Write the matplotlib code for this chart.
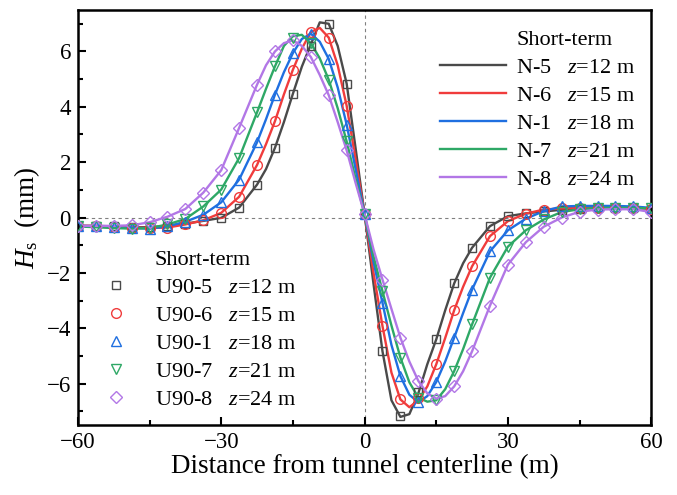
import matplotlib
matplotlib.use("Agg")
import matplotlib.pyplot as plt
from matplotlib.lines import Line2D
from matplotlib.ticker import MultipleLocator

plt.rcParams['font.family'] = ['Liberation Serif', 'DejaVu Serif']
plt.rcParams['mathtext.fontset'] = 'custom'
plt.rcParams['mathtext.rm'] = 'Liberation Serif'
plt.rcParams['mathtext.it'] = 'Liberation Serif:italic'

# measured points (markers), every 3.75 m
x_pts = [-60, -56.25, -52.5, -48.75, -45, -41.25, -37.5, -33.75, -30, -26.25,
         -22.5, -18.75, -15, -11.25, -7.5, -3.75, 0, 3.75, 7.5, 11.25, 15,
         18.75, 22.5, 26.25, 30, 33.75, 37.5, 41.25, 45, 48.75, 52.5, 56.25, 60]
u90_5 = [-0.3, -0.3, -0.32, -0.35, -0.35, -0.3, -0.22, -0.12, -0.01, 0.36,
         1.19, 2.52, 4.47, 6.2, 7.0, 4.84, 0.12, -4.83, -7.17, -6.3, -4.4,
         -2.38, -1.09, -0.31, 0.05, 0.15, 0.22, 0.28, 0.32, 0.35, 0.35, 0.35, 0.32]
u90_6 = [-0.3, -0.3, -0.33, -0.36, -0.38, -0.36, -0.25, -0.1, 0.17, 0.75,
         1.9, 3.48, 5.34, 6.7, 6.5, 4.04, 0.12, -3.92, -6.57, -6.5, -5.3,
         -3.35, -1.76, -0.67, -0.13, 0.14, 0.29, 0.33, 0.35, 0.35, 0.35, 0.35, 0.32]
u90_1 = [-0.3, -0.32, -0.35, -0.38, -0.4, -0.32, -0.15, 0.1, 0.55, 1.37,
         2.72, 4.44, 5.94, 6.64, 5.73, 3.36, 0.12, -3.08, -5.73, -6.67, -5.94,
         -4.34, -2.6, -1.22, -0.46, -0.04, 0.23, 0.4, 0.42, 0.42, 0.42, 0.4, 0.35]
u90_7 = [-0.32, -0.35, -0.38, -0.4, -0.38, -0.25, -0.05, 0.4, 1.01, 2.15,
         3.8, 5.46, 6.5, 6.3, 4.98, 2.75, 0.12, -2.66, -5.06, -6.5, -6.6,
         -5.55, -3.86, -2.17, -1.05, -0.46, -0.07, 0.2, 0.3, 0.35, 0.35, 0.35, 0.33]
u90_8 = [-0.3, -0.3, -0.3, -0.28, -0.17, 0.03, 0.31, 0.9, 1.71, 3.24,
         4.8, 6.0, 6.4, 5.8, 4.42, 2.43, 0.12, -2.24, -4.34, -5.9, -6.54,
         -6.1, -4.83, -3.18, -1.7, -0.89, -0.33, 0.0, 0.21, 0.29, 0.3, 0.3, 0.2]

# numerical curves (lines)
x_line = [-60, -56.25, -52.5, -48.75, -45, -41.25, -37.5, -33.75, -30, -26.25,
          -22.5, -20.625, -18.75, -16.875, -15, -13.125, -11.25, -9.375, -7.5,
          -5.625, -3.75, -1.875, 0, 1.875, 3.75, 5.625, 7.5, 9.375, 11.25,
          13.125, 15, 16.875, 18.75, 20.625, 22.5,
          26.25, 30, 33.75, 37.5, 41.25, 45, 48.75, 52.5, 56.25, 60]
n_5 = [-0.3, -0.3, -0.32, -0.35, -0.35, -0.3, -0.22, -0.12, -0.01, 0.36,
       1.19, 1.75, 2.52, 3.45, 4.47, 5.45, 6.25, 7.05, 7.0, 6.2, 4.84, 2.5,
       0.12, -2.4, -4.83, -6.6, -7.2, -7.1, -6.35, -5.3, -4.4, -3.35, -2.38,
       -1.65, -1.09,
       -0.31, 0.05, 0.15, 0.22, 0.28, 0.32, 0.35, 0.35, 0.35, 0.32]
n_6 = [-0.3, -0.3, -0.33, -0.36, -0.38, -0.36, -0.25, -0.1, 0.17, 0.75,
       1.9, 2.65, 3.48, 4.45, 5.34, 6.1, 6.7, 6.85, 6.5, 5.5, 4.04, 2.1,
       0.12, -2.0, -3.92, -5.6, -6.57, -6.85, -6.6, -6.1, -5.3, -4.35, -3.35,
       -2.5, -1.76,
       -0.67, -0.13, 0.14, 0.29, 0.33, 0.35, 0.35, 0.35, 0.35, 0.32]
n_1 = [-0.3, -0.32, -0.35, -0.38, -0.4, -0.32, -0.15, 0.1, 0.55, 1.37,
       2.72, 3.55, 4.44, 5.25, 5.94, 6.45, 6.64, 6.35, 5.73, 4.7, 3.36, 1.75,
       0.12, -1.6, -3.08, -4.6, -5.73, -6.4, -6.67, -6.45, -5.94, -5.2, -4.34,
       -3.45, -2.6,
       -1.22, -0.46, -0.04, 0.23, 0.4, 0.42, 0.42, 0.42, 0.4, 0.35]
n_7 = [-0.32, -0.35, -0.38, -0.4, -0.38, -0.25, -0.05, 0.4, 1.01, 2.15,
       3.8, 4.65, 5.46, 6.2, 6.55, 6.6, 6.3, 5.75, 4.98, 3.95, 2.75, 1.4,
       0.12, -1.4, -2.66, -3.9, -5.06, -5.95, -6.5, -6.65, -6.6, -6.2, -5.55,
       -4.75, -3.86,
       -2.17, -1.05, -0.46, -0.07, 0.2, 0.3, 0.35, 0.35, 0.35, 0.33]
n_8 = [-0.3, -0.3, -0.3, -0.28, -0.17, 0.03, 0.31, 0.9, 1.71, 3.24,
       4.8, 5.5, 6.0, 6.3, 6.4, 6.2, 5.8, 5.15, 4.42, 3.45, 2.43, 1.25,
       0.12, -1.15, -2.24, -3.3, -4.34, -5.2, -5.9, -6.35, -6.54, -6.45, -6.1,
       -5.55, -4.83,
       -3.18, -1.7, -0.89, -0.33, 0.0, 0.21, 0.29, 0.3, 0.3, 0.2]

depths = ["12", "15", "18", "21", "24"]
line_names = ["N-5", "N-6", "N-1", "N-7", "N-8"]
pt_names = ["U90-5", "U90-6", "U90-1", "U90-7", "U90-8"]
colors = ["#4a4a4a", "#f03c3c", "#1f6fe0", "#2ea866", "#b277e6"]
markers = ["s", "o", "^", "v", "D"]
msizes = [6, 7, 7.5, 7.5, 6]

fig = plt.figure(figsize=(6.77, 4.95), dpi=100)
ax = fig.add_axes([0.115, 0.141, 0.847, 0.839])

ax.axhline(0, color="gray", lw=0.8, ls=(0, (3, 3)), zorder=1)
ax.axvline(0, color="gray", lw=0.8, ls=(0, (3, 3)), zorder=1)

line_handles = [Line2D([], [], ls="none")]
line_labels = ["Short-term"]
for y, c, nm, d in zip([n_5, n_6, n_1, n_7, n_8], colors, line_names, depths):
    h, = ax.plot(x_line, y, color=c, lw=1.7, zorder=2)
    line_handles.append(h)
    line_labels.append(nm + "   $z$=" + d + " m")

pt_handles = [Line2D([], [], ls="none")]
pt_labels = ["Short-term"]
for y, c, m, ms, nm, d in zip([u90_5, u90_6, u90_1, u90_7, u90_8], colors,
                              markers, msizes, pt_names, depths):
    h, = ax.plot(x_pts, y, ls="none", marker=m, ms=ms, mfc="none", mec=c,
                 mew=1.0, zorder=3)
    pt_handles.append(h)
    pt_labels.append(nm + "   $z$=" + d + " m")

ax.set_xlim(-60, 60)
ax.set_ylim(-7.5, 7.5)
ax.xaxis.set_major_locator(MultipleLocator(30))
ax.xaxis.set_minor_locator(MultipleLocator(15))
ax.yaxis.set_major_locator(MultipleLocator(2))
ax.yaxis.set_minor_locator(MultipleLocator(1))
ax.tick_params(which="both", direction="in", width=1.5, labelsize=16.5)
ax.tick_params(which="major", length=5.5, pad=5)
ax.tick_params(which="minor", length=3.5)
for s in ax.spines.values():
    s.set_linewidth(1.8)

ax.set_xlabel("Distance from tunnel centerline (m)", fontsize=19.5, labelpad=1)
ax.set_ylabel("$H_\\mathrm{s}$  (mm)", fontsize=19.5, labelpad=3)

leg1 = ax.legend(line_handles, line_labels, loc="upper right",
                 bbox_to_anchor=(1.0, 0.99), frameon=False, fontsize=16,
                 handlelength=3.0, handletextpad=0.45, labelspacing=0.33,
                 borderaxespad=0.3)
ax.add_artist(leg1)
ax.legend(pt_handles, pt_labels, loc="lower left",
          bbox_to_anchor=(0.0, 0.0), frameon=False, fontsize=16,
          handlelength=2.0, handletextpad=0.75, labelspacing=0.33,
          borderaxespad=0.3)

fig.savefig("out.png", dpi=100)
